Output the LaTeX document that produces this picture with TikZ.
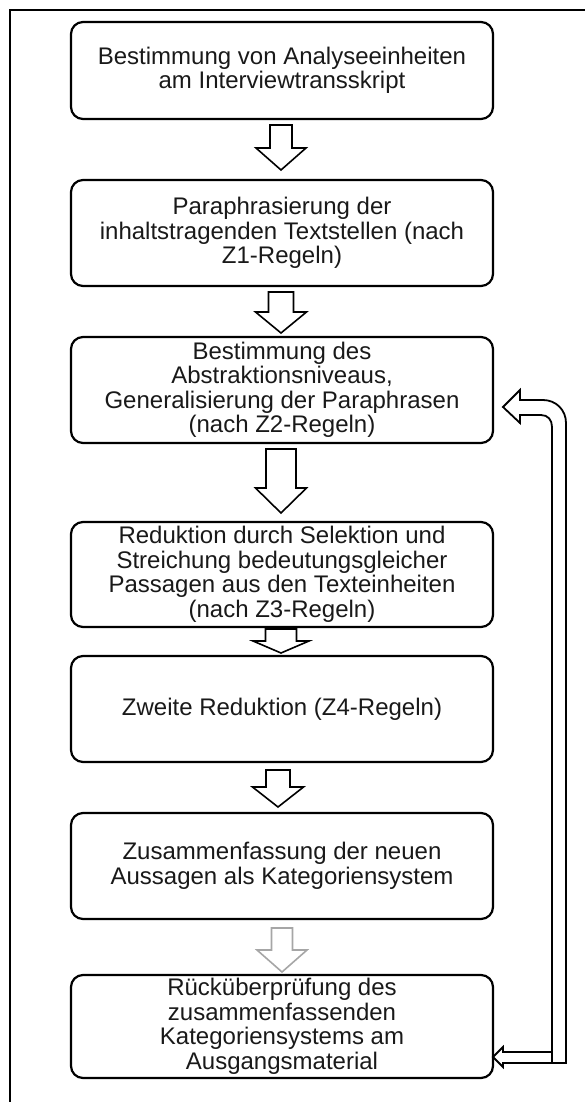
\documentclass[tikz,border=0pt]{standalone}
\usepackage{fontspec}
\setmainfont{Liberation Sans}
\usetikzlibrary{calc}
\begin{document}
\begin{tikzpicture}[x=1pt,y=-1pt,
  box/.style={draw=black, line width=2.2pt, rounded corners=12pt, minimum width=422pt, inner sep=0pt, outer sep=0pt},
  txt/.style={align=center, font=\fontsize{24}{24.5}\selectfont, inner sep=0pt, text=black!90},
  arrshaft/.store in=\bsw, arrhead/.store in=\bhw, arrlen/.store in=\bhl,
  arrshaft=11pt, arrhead=25pt, arrlen=21pt,
  barrow/.style={draw=black, fill=white, line width=1.6pt, line join=miter,
    to path={let \p1=(\tikztostart), \p2=(\tikztotarget) in
      (\x1-\bsw,\y1) -- (\x1+\bsw,\y1) -- (\x1+\bsw,\y2+\bhl) -- (\x1+\bhw,\y2+\bhl)
      -- (\x1,\y2) -- (\x1-\bhw,\y2+\bhl) -- (\x1-\bsw,\y2+\bhl) -- cycle}},
  fb/.style={draw=black, fill=white, line width=1.8pt, line join=miter}
]
\useasboundingbox (0,0) rectangle (584,1102);
\draw[line width=2pt] (10,10) rectangle (600,1120);

\node[box, minimum height=97pt]  (b1) at (282,70.5) {};
\node[box, minimum height=106pt] (b2) at (282,233) {};
\node[box, minimum height=106pt] (b3) at (282,390) {};
\node[box, minimum height=105pt] (b4) at (282,574.5) {};
\node[box, minimum height=106pt] (b5) at (282,709) {};
\node[box, minimum height=106pt] (b6) at (282,866) {};
\node[box, minimum height=103pt] (b7) at (282,1026.5) {};

\node[txt] (t1) at (b1.center) {Bestimmung von Analyseeinheiten\\am Interviewtransskript};
\node[txt] (t2) at (b2.center) {Paraphrasierung der\\inhaltstragenden Textstellen (nach\\Z1-Regeln)};
\node[txt] (t3) at (b3.center) {Bestimmung des\\Abstraktionsniveaus,\\Generalisierung der Paraphrasen\\(nach Z2-Regeln)};
\node[txt] (t4) at (b4.center) {Reduktion durch Selektion und\\Streichung bedeutungsgleicher\\Passagen aus den Texteinheiten\\(nach Z3-Regeln)};
\node[txt] (t5) at (b5.center) {Zweite Reduktion (Z4-Regeln)};
\node[txt] (t6) at (b6.center) {Zusammenfassung der neuen\\Aussagen als Kategoriensystem};
\node[txt] (t7) at (b7.center) {Rücküberprüfung des\\zusammenfassenden\\Kategoriensystems am\\Ausgangsmaterial};

\draw[barrow, arrshaft=11pt, arrhead=25pt, arrlen=22pt] ([xshift=-1pt,yshift=-6pt]b1.south) to ([xshift=-1pt,yshift=10pt]b2.north);
\draw[barrow, arrshaft=12.5pt, arrhead=25.5pt, arrlen=21pt] ([xshift=-1pt,yshift=-6pt]b2.south) to ([xshift=-1pt,yshift=4pt]b3.north);
\draw[barrow, arrshaft=15pt, arrhead=25.5pt, arrlen=25pt] ([xshift=-1pt,yshift=-6pt]b3.south) to ([xshift=-1pt,yshift=9pt]b4.north);
\draw[barrow, arrshaft=15.5pt, arrhead=28pt, arrlen=12pt] ([xshift=-1pt,yshift=-2pt]b4.south) to ([xshift=-1pt,yshift=3pt]b5.north);
\draw[barrow, arrshaft=12pt, arrhead=25.5pt, arrlen=20pt] ([xshift=-4pt,yshift=-8pt]b5.south) to ([xshift=-4pt,yshift=6pt]b6.north);
\draw[barrow, draw=black!35, arrshaft=10.5pt, arrhead=25pt, arrlen=22pt] ([yshift=-9pt]b6.south) to ([yshift=3pt]b7.north);

% feedback arrow
\draw[fb] ($(b3.east)+(10,17)$) -- ($(b3.east)+(27,0)$) -- ($(b3.east)+(27,10)$) -- ($(b3.east)+(50,10)$)
  .. controls ($(b3.east)+(63,10)$) and ($(b3.east)+(73,20)$) .. ($(b3.east)+(73,33)$)
  -- ($(b7.east)+(73,36.5)$) -- ($(b7.east)+(59,36.5)$) -- ($(b3.east)+(59,37)$)
  .. controls ($(b3.east)+(59,30)$) and ($(b3.east)+(55,25)$) .. ($(b3.east)+(48,25)$)
  -- ($(b3.east)+(27,25)$) -- ($(b3.east)+(27,33)$) -- cycle;
\draw[fb] (b7.east) ++(0,30.5) coordinate (fbtip) -- ($(b7.east)+(10,20.5)$) -- ($(b7.east)+(10,25.5)$)
  -- ($(b7.east)+(59,25.5)$) -- ($(b7.east)+(59,36.5)$) -- ($(b7.east)+(10,36.5)$) -- ($(b7.east)+(10,40.5)$) -- cycle;
\end{tikzpicture}
\end{document}
